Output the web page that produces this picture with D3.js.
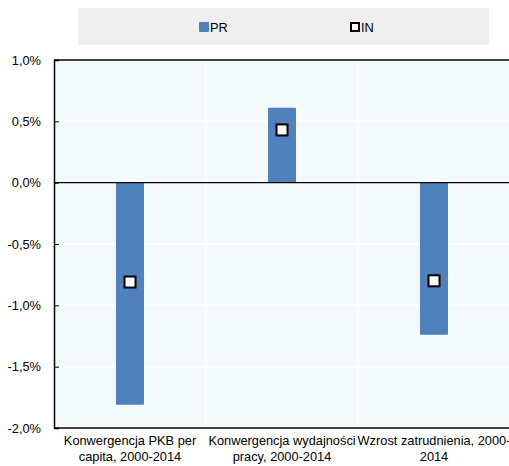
<!DOCTYPE html>
<html><head><meta charset="utf-8">
<script src="https://cdn.jsdelivr.net/npm/d3@7"></script>
<style>body{margin:0;background:#fff}svg{display:block;font-family:"Liberation Sans",Arial,sans-serif}</style>
</head><body><svg id="c" width="509" height="466"></svg>
<script>
const categories = [["Konwergencja PKB per","capita, 2000-2014"],["Konwergencja wydajności","pracy, 2000-2014"],["Wzrost zatrudnienia, 2000-","2014"]];
const prValues = [-1.81, 0.61, -1.24];
const inValues = [-0.81, 0.43, -0.80];
const yTicks = [1.0, 0.5, 0.0, -0.5, -1.0, -1.5, -2.0];
const seriesNames = ["PR", "IN"];

const svg = d3.select("#c");
const m = {l:54, r:510, t:60, b:428};
const x = d3.scaleBand().domain(d3.range(categories.length)).range([m.l, m.r]);
const y = d3.scaleLinear().domain([-2, 1]).range([m.b, m.t]);
const fmt = v => d3.format(".1f")(v).replace(".", ",").replace("−","-") + "%";
const FS = 12.8;

// plot background
svg.append("rect").attr("x", m.l).attr("y", m.t).attr("width", m.r - m.l).attr("height", m.b - m.t).attr("fill", "#f4f9fb");
// gridlines
svg.selectAll(".hg").data(yTicks).enter().append("line")
  .attr("x1", m.l).attr("x2", m.r).attr("y1", d => y(d)).attr("y2", d => y(d))
  .attr("stroke", "#fff").attr("stroke-width", 1.5);
svg.selectAll(".vg").data(d3.range(1, categories.length)).enter().append("line")
  .attr("x1", d => x(d)).attr("x2", d => x(d)).attr("y1", m.t).attr("y2", m.b)
  .attr("stroke", "#fff").attr("stroke-width", 1.5);

// bars
const bw = 28;
svg.selectAll(".bar").data(prValues).enter().append("rect")
  .attr("x", (d, i) => x(i) + x.bandwidth() / 2 - bw / 2)
  .attr("y", d => y(Math.max(0, d)))
  .attr("width", bw)
  .attr("height", d => Math.abs(y(d) - y(0)))
  .attr("rx", 1).attr("fill", "#4f81bd");

// zero line, top and bottom border
svg.append("line").attr("x1", m.l).attr("x2", m.r).attr("y1", y(0)).attr("y2", y(0)).attr("stroke", "#000").attr("stroke-width", 1.2);
svg.append("line").attr("x1", m.l).attr("x2", m.r).attr("y1", m.t).attr("y2", m.t).attr("stroke", "#000").attr("stroke-width", 1.5);
svg.append("line").attr("x1", m.l).attr("x2", m.r).attr("y1", m.b).attr("y2", m.b).attr("stroke", "#000").attr("stroke-width", 1.5);

// y axis
const ya = svg.append("g").attr("transform", `translate(${m.l},0)`)
  .call(d3.axisLeft(y).tickValues(yTicks).tickSize(-5).tickPadding(13).tickFormat(fmt));
ya.select(".domain").attr("stroke", "#000").attr("stroke-width", 1.5);
ya.selectAll(".tick line").attr("stroke", "#000");
ya.selectAll("text").attr("font-size", FS).attr("fill", "#000").attr("font-family", "Liberation Sans, Arial, sans-serif");

// markers
const ms = 11;
svg.selectAll(".mk").data(inValues).enter().append("rect")
  .attr("x", (d, i) => x(i) + x.bandwidth() / 2 - ms / 2)
  .attr("y", d => y(d) - ms / 2)
  .attr("width", ms).attr("height", ms)
  .attr("fill", "#fff").attr("stroke", "#000").attr("stroke-width", 2);

// category labels
categories.forEach((lines, i) => {
  const t = svg.append("text").attr("text-anchor", "middle").attr("font-size", FS).attr("fill", "#000");
  lines.forEach((ln, j) => {
    t.append("tspan").attr("x", x(i) + x.bandwidth() / 2).attr("y", 445 + j * 16).text(ln);
  });
});

// legend
svg.append("rect").attr("x", 78).attr("y", 8).attr("width", 411).attr("height", 37).attr("fill", "#efefef");
svg.append("rect").attr("x", 199).attr("y", 22).attr("width", 10).attr("height", 10).attr("rx", 1).attr("fill", "#4f81bd");
svg.append("text").attr("x", 210).attr("y", 32).attr("font-size", FS).text(seriesNames[0]);
svg.append("rect").attr("x", 351).attr("y", 23).attr("width", 8).attr("height", 8).attr("fill", "#fff").attr("stroke", "#000").attr("stroke-width", 2);
svg.append("text").attr("x", 361).attr("y", 32).attr("font-size", FS).text(seriesNames[1]);
</script></body></html>
